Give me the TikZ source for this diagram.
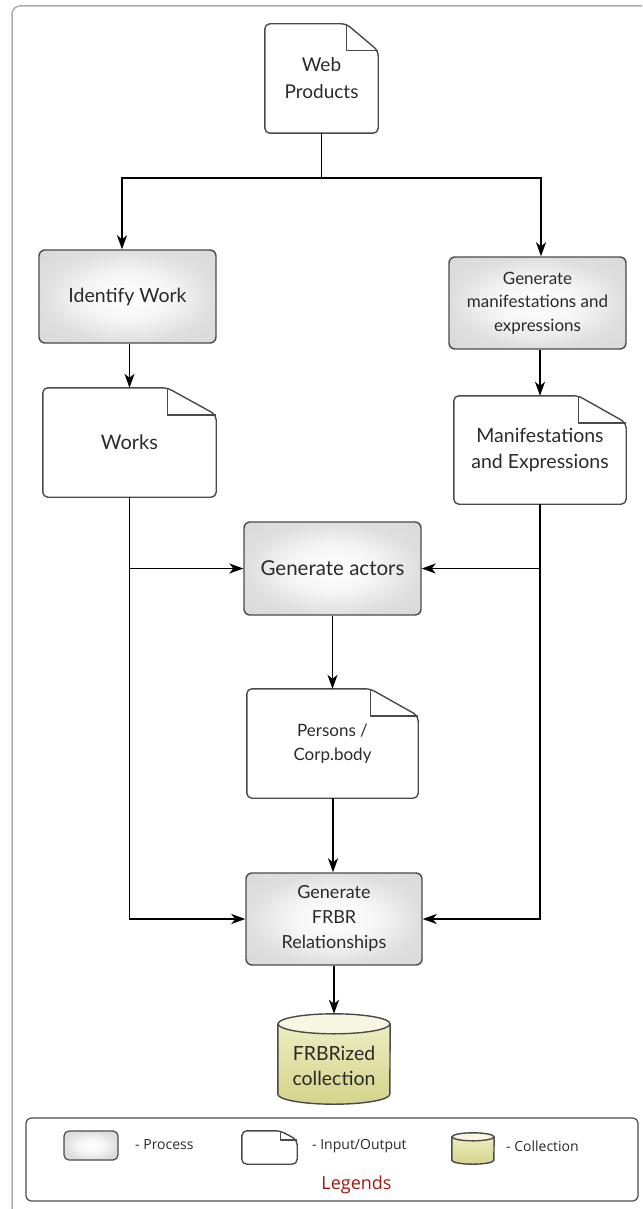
\documentclass[tikz,border=0pt]{standalone}
\usepackage{fontspec}
\setmainfont{Lato}
\newfontfamily\legendfont{Open Sans}
\usetikzlibrary{arrows.meta,calc}

\definecolor{edge}{HTML}{4A4A4A}
\definecolor{framegray}{HTML}{ADADAD}
\definecolor{procin}{HTML}{F6F6F6}
\definecolor{procmid}{HTML}{DEDEDE}
\definecolor{procout}{HTML}{D3D3D3}
\definecolor{cyllid}{HTML}{F7F7E2}
\definecolor{cylhi}{HTML}{F0F0C8}
\definecolor{cyllo}{HTML}{D4D48A}
\definecolor{legred}{HTML}{A5170D}
\definecolor{ink}{HTML}{2A2A2A}

% soft glow used inside process boxes
\pgfdeclareradialshading{procglow}{\pgfpoint{0bp}{0bp}}{%
  color(0bp)=(white); color(12bp)=(procin);
  color(25bp)=(procmid); color(50bp)=(procout)}

\tikzset{
  process/.style={draw=edge, line width=1.4pt, rounded corners=6pt,
    shading=procglow, align=center, text=ink,
    minimum width=177pt, minimum height=93pt, inner sep=0pt},
  docbox/.style={align=center, text=ink, inner sep=0pt},
  docline/.style={draw=edge, line width=1.4pt, rounded corners=5pt, line join=round},
  cylbox/.style={inner sep=0pt},
  arr/.style={draw=black, line width=1.6pt,
    -{Stealth[length=14pt,width=10pt,inset=4pt]}},
  legtext/.style={font=\legendfont\fontsize{14}{16}\selectfont, text=ink, anchor=west, inner sep=0pt}
}

% document outline with a folded top-right corner
\newcommand\docshape[3]{%
  \draw[docline] (#1.north west) -- ([xshift=-#2]#1.north east)
    -- ([yshift=-#3]#1.north east) -- (#1.south east) -- (#1.south west) -- cycle;
  \draw[docline, rounded corners=0pt] ([xshift=-#2]#1.north east)
    -- ([xshift=-#2,yshift=-#3]#1.north east) -- ([yshift=-#3]#1.north east);
}
% cylinder drawn into the box of a node: node, half width, lid radius
\newcommand\cylshape[3]{%
  \path[top color=cylhi, bottom color=cyllo]
    ([yshift=-#3]#1.north west) -- ([yshift=#3]#1.south west)
    arc[start angle=180, end angle=360, x radius=#2, y radius=#3]
    -- ([yshift=-#3]#1.north east)
    arc[start angle=0, end angle=180, x radius=#2, y radius=#3] -- cycle;
  \draw[draw=edge, line width=1.4pt]
    ([yshift=-#3]#1.north west) -- ([yshift=#3]#1.south west)
    arc[start angle=180, end angle=360, x radius=#2, y radius=#3]
    -- ([yshift=-#3]#1.north east);
  \draw[draw=edge, line width=1.4pt, fill=cyllid]
    ([yshift=-#3]#1.north) ellipse[x radius=#2, y radius=#3];
}

\begin{document}
\begin{tikzpicture}[x=1pt, y=-1pt]
\useasboundingbox (0,0) rectangle (642,1209);
\clip (0,0) rectangle (642,1209);

% page frame
\draw[framegray, line width=1.5pt, rounded corners=8pt] (12,6) rectangle (680,1260);

% inputs / outputs
\node[docbox, minimum width=113pt, minimum height=109pt,
      font=\fontsize{19}{27}\selectfont] (web) at (321.5,78.5) {Web\\Products};
\docshape{web}{32pt}{27pt}

\node[docbox, minimum width=173pt, minimum height=109pt,
      font=\fontsize{20}{26}\selectfont] (works) at (129.5,442.5) {Works};
\docshape{works}{49pt}{27pt}

\node[docbox, minimum width=172pt, minimum height=108pt,
      font=\fontsize{19.5}{26}\selectfont] (manif) at (540,450) {Manifestations\\and Expressions};
\docshape{manif}{48pt}{27pt}

\node[docbox, minimum width=171pt, minimum height=109pt,
      font=\fontsize{17}{24}\selectfont] (pers) at (332.5,743.5) {Persons /\\Corp.body};
\docshape{pers}{48pt}{27pt}

% processes
\node[process, font=\fontsize{19.5}{24}\selectfont] (idw) at (127.5,296.5) {Identify Work};
\node[process, minimum height=92pt, font=\fontsize{17}{23.5}\selectfont] (gme) at (537.5,303)
  {Generate\\manifestations and\\expressions};
\node[process, font=\fontsize{20.5}{24}\selectfont] (gac) at (332.5,568.5) {Generate actors};
\node[process, minimum width=176pt, minimum height=92pt, font=\fontsize{18}{25}\selectfont]
  (gfr) at (334,919) {Generate\\FRBR\\Relationships};

% collection
\node[cylbox, minimum width=112pt, minimum height=90pt] (cyl) at (334,1059) {};
\cylshape{cyl}{56pt}{10pt}
\node[docbox, font=\fontsize{19.5}{25}\selectfont] (cyltxt) at ([yshift=-7pt]cyl.center)
  {FRBRized\\collection};

% connectors
\coordinate (split) at ([yshift=-45pt]web.south);
\draw[arr] (web.south) -- (split) -| ([xshift=-5.5pt]idw.north);
\draw[arr] (split) -| ([xshift=3.5pt]gme.north);
\draw[arr] ([xshift=2pt]idw.south) -- (works.north);
\draw[arr] (gme.south -| manif.north) -- (manif.north);
\draw[arr] (works.south) |- (gfr.west);
\draw[arr] (works.south |- gac.west) -- (gac.west);
\draw[arr] (manif.south) |- (gfr.east);
\draw[arr] (manif.south |- gac.east) -- (gac.east);
\draw[arr] (gac.south) -- (pers.north);
\draw[arr] ([xshift=0.5pt]pers.south) -- ([xshift=-1pt]gfr.north);
\draw[arr] (gfr.south) -- (cyl.north);

% legend
\node[draw=edge, line width=1.2pt, rounded corners=5pt, minimum width=612pt,
      minimum height=83pt, inner sep=0pt] (legend) at (332,1159.5) {};
\node[process, minimum width=54pt, minimum height=29pt, rounded corners=5pt,
      line width=1.2pt] (lproc) at (91,1145.5) {};
\node[legtext] (lproctxt) at (135,1145) {- Process};
\node[docbox, minimum width=55pt, minimum height=33pt] (ldoc) at (269.5,1147.5) {};
\docshape{ldoc}{17pt}{9pt}
\node[legtext] (ldoctxt) at (312,1146) {- Input/Output};
\node[cylbox, minimum width=42pt, minimum height=31pt] (lcyl) at (473,1148.5) {};
\cylshape{lcyl}{21pt}{4pt}
\node[legtext] (lcyltxt) at (506,1146) {- Collection};
\node[font=\legendfont\fontsize{18}{20}\selectfont, text=legred, inner sep=0pt]
  (legtitle) at (356.5,1185) {Legends};
\end{tikzpicture}
\end{document}
